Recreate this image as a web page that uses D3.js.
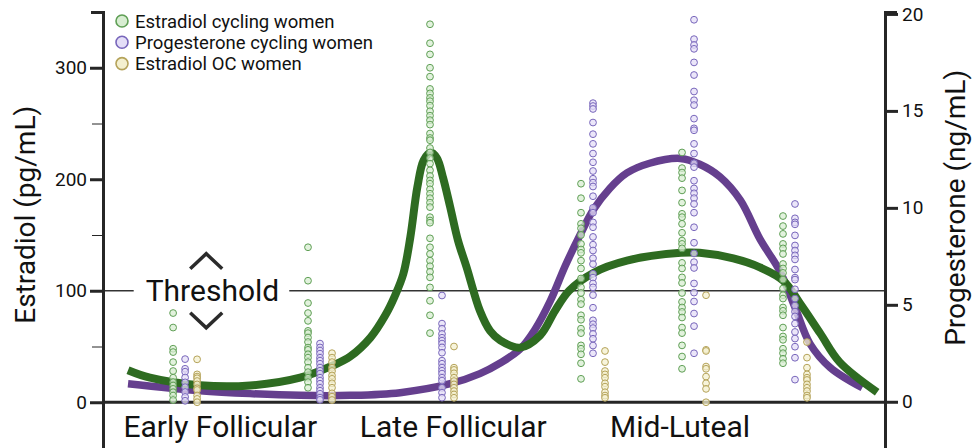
<!DOCTYPE html>
<html>
<head>
<meta charset="utf-8">
<script src="https://cdn.jsdelivr.net/npm/d3@7"></script>
<style>
  html, body { margin: 0; padding: 0; background: #fff; }
  svg { display: block; font-family: Roboto, "Noto Sans", sans-serif; }
</style>
</head>
<body>
<div id="chart"></div>
<script>
// sample columns along the cycle (x units, 0-100)
const groupPos = [10.5, 27.75, 43.35, 62.66, 75.58, 88.49];
const phaseLabels = ["Early Follicular", "Late Follicular", "Mid-Luteal"];
const phaseLabelPos = [15, 44.8, 73.8];
const leftTicks = [0, 100, 200, 300];
const leftMinor = [50, 150, 250];
const rightTicks = [0, 5, 10, 15, 20];
const threshold = 100;

// estradiol, cycling women (pg/mL)
const estCyc = [
  [80, 67, 48, 45, 36, 28, 22, 18, 15, 12, 9, 6, 2],
  [139, 109, 89, 80, 73, 64, 62, 58, 54, 49, 47, 43, 40, 36, 31, 27, 22, 18, 13],
  [339, 322, 312, 300, 292, 281, 277, 273, 270, 266, 261, 257, 253, 249, 241, 237, 235, 228, 224, 219, 214, 208, 203, 199, 196, 191, 187, 183, 179, 175, 166, 163, 161, 147, 139, 133, 127, 122, 117, 112, 103, 91, 78, 62],
  [196, 183, 170, 160, 156, 150, 142, 137, 134, 127, 120, 111, 103, 98, 92, 88, 78, 74, 66, 62, 51, 48, 43, 35, 21],
  [224, 210, 206, 201, 190, 179, 169, 166, 160, 152, 145, 142, 138, 125, 120, 112, 107, 98, 90, 85, 81, 76, 67, 62, 51, 41, 30],
  [167, 158, 151, 142, 138, 133, 124, 120, 116, 110, 102, 96, 93, 85, 82, 78, 67, 59, 56, 48, 44, 39, 35]
];
// progesterone, cycling women (ng/mL)
const progCyc = [
  [2.2, 1.7, 1.55, 1.25, 1.0, 0.75, 0.5, 0.25, 0.05],
  [3.0, 2.8, 2.64, 2.48, 2.27, 2.12, 1.96, 1.76, 1.6, 1.45, 1.24, 1.09, 0.93, 0.72, 0.57, 0.41, 0.21, 0.1],
  [5.48, 4.03, 3.77, 3.5, 3.3, 3.15, 3.0, 2.8, 2.53, 2.12, 1.96, 1.76, 1.6, 1.45, 1.24, 1.09, 0.72, 0.47, 0.21],
  [15.4, 15.25, 15.1, 14.4, 13.8, 13.3, 12.8, 12.35, 11.9, 11.5, 11.3, 11.1, 10.6, 10.0, 9.75, 9.25, 9.0, 8.5, 8.1, 7.8, 7.4, 7.1, 6.6, 6.4, 6.1, 5.9, 5.5, 4.85, 4.2, 4.0, 3.8, 3.5, 3.25, 2.9, 2.5],
  [19.7, 18.7, 18.4, 18.2, 17.5, 16.85, 16.0, 15.55, 15.3, 14.6, 14.1, 14.0, 13.3, 12.8, 12.3, 12.1, 11.4, 11.0, 10.75, 10.5, 10.2, 9.75, 9.0, 8.2, 7.65, 7.2, 6.9, 6.1, 5.63, 5.17, 4.55, 3.9, 2.5],
  [10.2, 9.46, 9.25, 9.15, 8.58, 8.06, 7.8, 7.55, 7.34, 6.82, 6.4, 6.3, 5.8, 5.32, 4.96, 4.65, 4.4, 4.03, 3.6, 3.26, 2.84, 2.27, 1.14]
];
// estradiol, OC women (pg/mL)
const estOC = [
  [38.5, 25, 23, 21.5, 19, 16, 12.5, 11, 6, 3, 0],
  [44, 40, 36, 31, 28, 24, 21, 17, 13, 8, 5, 2],
  [50, 31, 29, 26, 22, 19, 16, 13, 10, 7, 4],
  [46, 36, 28, 25, 22, 17, 14, 9, 6, 4],
  [96, 47, 46, 32, 30, 23, 17, 12, 0],
  [54, 40, 31, 25, 22, 20, 16, 13, 10, 6, 4]
];

// fitted curves
const estCurveX = [3.2, 6.0, 12.4, 18.8, 25.2, 29.4, 31.6, 34.2, 36.1, 37.3, 38.4, 39.3, 40.2, 41.0, 41.9, 42.7, 43.5, 44.4, 45.4, 46.5, 48.2, 49.5, 50.8, 53.3, 55.9, 57.8, 59.6, 62.7, 67.0, 73.9, 76.3, 80.6, 84.0, 87.0, 89.1, 91.7, 94.2, 99.0];
const estCurveY = [28.7, 22, 15.2, 15, 22, 33, 41, 58, 78, 95, 115, 148, 193, 217, 224, 219, 201, 175, 145, 121, 82, 64, 55.5, 49, 60, 82, 100, 116, 127, 134, 134, 129, 121, 109, 89, 62, 36, 9];
const progCurveX = [3.2, 12.4, 18.8, 25.2, 31.6, 38.0, 44.4, 48.2, 50.8, 53.3, 55.2, 57.2, 59.1, 61.0, 62.7, 64.8, 67.0, 69.9, 73.8, 76.3, 78.9, 81.5, 84.0, 86.6, 88.5, 90.4, 93.0, 97.1];
const progCurveY = [0.93, 0.57, 0.42, 0.33, 0.33, 0.47, 0.93, 1.45, 2.0, 2.7, 3.7, 5.2, 7.0, 8.6, 9.9, 11.0, 11.8, 12.3, 12.55, 12.25, 11.6, 10.4, 8.4, 6.7, 4.86, 3.0, 1.76, 0.72];

const legendItems = ["Estradiol cycling women", "Progesterone cycling women", "Estradiol OC women"];

const W = 973, H = 448;
const colors = {
  est: { fill: "#d8edd2", stroke: "#5f9f55" },
  prog: { fill: "#e4def7", stroke: "#7866bb" },
  oc: { fill: "#f4f0cf", stroke: "#b5a35a" }
};
const axisColor = "#262626";

const x = d3.scaleLinear().domain([0, 100]).range([103, 885]);
const yL = d3.scaleLinear().domain([-50, 350]).range([458, 12]);
const yR = d3.scaleLinear().domain([-2.9, 20.1]).range([458, 12]);
const dodge = d3.scalePoint().domain(["est", "prog", "oc"]).range([-12, 12]);

const svg = d3.select("#chart").append("svg").attr("width", W).attr("height", H);

// threshold line with a gap for the label
const thrY = yL(threshold);
const thrLabel = svg.append("text")
  .attr("x", x(14)).attr("y", thrY)
  .attr("text-anchor", "middle").attr("dominant-baseline", "central")
  .attr("font-size", 30).attr("fill", "#111")
  .text("Threshold");
const tw = thrLabel.node().getComputedTextLength();
svg.append("g").selectAll("line")
  .data([[x(0), x(14) - tw / 2 - 12], [x(14) + tw / 2 + 10, x(100)]])
  .join("line")
  .attr("x1", (d) => d[0]).attr("x2", (d) => d[1])
  .attr("y1", thrY).attr("y2", thrY)
  .attr("stroke", "#333").attr("stroke-width", 1.5);

// chevrons
const cx = x(13.2);
svg.append("path")
  .attr("d", `M${cx - 16},${thrY - 22} L${cx},${thrY - 37} L${cx + 16},${thrY - 22}`)
  .attr("fill", "none").attr("stroke", "#2b2b2b").attr("stroke-width", 3.5);
svg.append("path")
  .attr("d", `M${cx - 16},${thrY + 22} L${cx},${thrY + 37} L${cx + 16},${thrY + 22}`)
  .attr("fill", "none").attr("stroke", "#2b2b2b").attr("stroke-width", 3.5);

// zero baseline
svg.append("line")
  .attr("x1", x(0)).attr("x2", x(100))
  .attr("y1", yL(0)).attr("y2", yL(0))
  .attr("stroke", axisColor).attr("stroke-width", 3);

// curves
const progLine = d3.line()
  .x((d) => x(d[0])).y((d) => yR(d[1]))
  .curve(d3.curveCatmullRom.alpha(0.5));
const estLine = d3.line()
  .x((d) => x(d[0])).y((d) => yL(d[1]))
  .curve(d3.curveCatmullRom.alpha(0.5));

svg.append("path")
  .datum(d3.zip(progCurveX, progCurveY))
  .attr("d", progLine)
  .attr("fill", "none").attr("stroke", "#653f8e").attr("stroke-width", 7.5);
svg.append("path")
  .datum(d3.zip(estCurveX, estCurveY))
  .attr("d", estLine)
  .attr("fill", "none").attr("stroke", "#2e6b21").attr("stroke-width", 8);

// scatter points
const pts = [];
groupPos.forEach((gx, i) => {
  estCyc[i].forEach((v) => pts.push({ s: "est", gx, cy: yL(v) }));
  progCyc[i].forEach((v) => pts.push({ s: "prog", gx, cy: yR(v) }));
  estOC[i].forEach((v) => pts.push({ s: "oc", gx, cy: yL(v) }));
});
svg.append("g").selectAll("circle")
  .data(pts)
  .join("circle")
  .attr("cx", (d) => x(d.gx) + dodge(d.s))
  .attr("cy", (d) => d.cy)
  .attr("r", 3.4)
  .attr("fill", (d) => colors[d.s].fill)
  .attr("fill-opacity", 0.75)
  .attr("stroke", (d) => colors[d.s].stroke)
  .attr("stroke-width", 1);

// left axis
const gl = svg.append("g").attr("transform", `translate(${x(0)},0)`);
gl.call(d3.axisLeft(yL).tickValues(leftMinor).tickSize(11).tickSizeOuter(0).tickFormat(""));
gl.selectAll("line").attr("stroke", axisColor).attr("stroke-width", 1);
gl.select(".domain").remove();
const gl2 = svg.append("g").attr("transform", `translate(${x(0)},0)`)
  .call(d3.axisLeft(yL).tickValues(leftTicks).tickSize(13).tickSizeOuter(12).tickPadding(3));
gl2.select(".domain").attr("stroke", axisColor).attr("stroke-width", 3);
gl2.selectAll("line").attr("stroke", axisColor).attr("stroke-width", 3);
gl2.selectAll("text").attr("font-size", 19).attr("fill", "#111").attr("font-family", "Roboto");

// right axis
const gr = svg.append("g").attr("transform", `translate(${x(100)},0)`)
  .call(d3.axisRight(yR).tickValues(rightTicks).tickSize(13).tickSizeOuter(12).tickPadding(4));
gr.select(".domain").attr("stroke", axisColor).attr("stroke-width", 3);
gr.selectAll("line").attr("stroke", axisColor).attr("stroke-width", 3);
gr.selectAll("text").attr("font-size", 19).attr("fill", "#111").attr("font-family", "Roboto");

// axis titles
svg.append("text")
  .attr("transform", `translate(35,${yL(100) - 76}) rotate(-90)`)
  .attr("text-anchor", "middle")
  .attr("font-size", 28).attr("fill", "#111")
  .text("Estradiol (pg/mL)");
svg.append("text")
  .attr("transform", `translate(965,${yR(10)}) rotate(-90)`)
  .attr("text-anchor", "middle")
  .attr("font-size", 28).attr("fill", "#111")
  .text("Progesterone (ng/mL)");

// phase labels
svg.append("g").selectAll("text")
  .data(phaseLabels)
  .join("text")
  .attr("x", (d, i) => x(phaseLabelPos[i]))
  .attr("y", 437)
  .attr("text-anchor", "middle")
  .attr("font-size", 30).attr("fill", "#111")
  .text((d) => d);

// legend
const legendKeys = ["est", "prog", "oc"];
const lg = svg.append("g").selectAll("g")
  .data(legendItems)
  .join("g")
  .attr("transform", (d, i) => `translate(122,${21 + i * 21.3})`);
lg.append("circle")
  .attr("r", 6)
  .attr("fill", (d, i) => colors[legendKeys[i]].fill)
  .attr("stroke", (d, i) => colors[legendKeys[i]].stroke)
  .attr("stroke-width", 1.6);
lg.append("text")
  .attr("x", 13).attr("dy", "0.36em")
  .attr("font-size", 18.5).attr("fill", "#111")
  .text((d) => d);
</script>
</body>
</html>
